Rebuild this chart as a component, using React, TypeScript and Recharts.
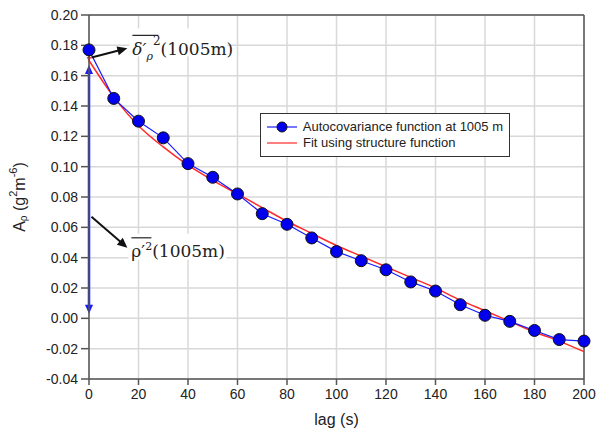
import React from 'react'
import { CartesianGrid, Legend, Line, LineChart, ReferenceLine, XAxis, YAxis } from 'recharts'

const lags = [0, 10, 20, 30, 40, 50, 60, 70, 80, 90, 100, 110, 120, 130, 140, 150, 160, 170, 180, 190, 200]
const autocov = [0.177, 0.145, 0.13, 0.119, 0.102, 0.093, 0.082, 0.069, 0.062, 0.053, 0.044, 0.038, 0.032, 0.024, 0.018, 0.009, 0.002, -0.002, -0.008, -0.014, -0.015]
const fit = [0.17, 0.146, 0.127, 0.113, 0.101, 0.091, 0.082, 0.073, 0.064, 0.056, 0.048, 0.041, 0.034, 0.027, 0.02, 0.012, 0.005, -0.002, -0.009, -0.015, -0.022]
const xTicks = [0, 20, 40, 60, 80, 100, 120, 140, 160, 180, 200]
const yTicks = [-0.04, -0.02, 0, 0.02, 0.04, 0.06, 0.08, 0.1, 0.12, 0.14, 0.16, 0.18, 0.2]

const seriesNames = ['Autocovariance function at 1005 m', 'Fit using structure function']
const totalVariance = 0.167 // rho'^2 arrow top
const noiseTop = 0.177
const noiseBottom = 0.169

const rows = lags.map((lag, i) => ({ lag, autocov: autocov[i], fit: fit[i] }))

const BLUE = '#1a1aff'
const RED = '#ff2a2a'
const FONT = '"Liberation Sans", Arial, sans-serif'
const SERIF = '"DejaVu Serif", "Liberation Serif", serif'

function head(x: number, y: number, ang: number, size: number, color: string) {
  const bx = x - size * Math.cos(ang)
  const by = y - size * Math.sin(ang)
  const px = Math.sin(ang) * size * 0.45
  const py = -Math.cos(ang) * size * 0.45
  return <polygon points={`${x},${y} ${bx + px},${by + py} ${bx - px},${by - py}`} fill={color} />
}

function arrow(color: string, width: number, size: number, both: boolean, label?: (x: number, y: number) => React.ReactNode) {
  return (props: any) => {
    const { x1, y1, x2, y2 } = props
    const ang = Math.atan2(y2 - y1, x2 - x1)
    const sx = both ? x1 + Math.cos(ang) * size * 0.8 : x1
    const sy = both ? y1 + Math.sin(ang) * size * 0.8 : y1
    const ex = x2 - Math.cos(ang) * size * 0.8
    const ey = y2 - Math.sin(ang) * size * 0.8
    return (
      <g>
        {label && label(x2, y2)}
        <line x1={sx} y1={sy} x2={ex} y2={ey} stroke={color} strokeWidth={width} />
        {head(x2, y2, ang, size, color)}
        {both && head(x1, y1, ang + Math.PI, size, color)}
      </g>
    )
  }
}

const deltaLabel = (x: number, y: number) => (
  <g>
    <rect x={x + 2} y={y - 20} width={98} height={28} fill="#fff" />
    <line x1={x + 5} y1={y - 13} x2={x + 31} y2={y - 13} stroke="#222" strokeWidth={1.2} />
    <text x={x + 5} y={y + 7} fontFamily={SERIF} fontSize={17} fill="#222">
      <tspan fontStyle="italic">δ′</tspan>
      <tspan dy={5} fontSize={11} fontStyle="italic">ρ</tspan>
      <tspan dy={-15} fontSize={12}>2</tspan>
      <tspan dy={10}>(1005m)</tspan>
    </text>
  </g>
)

const rhoLabel = (x: number, y: number) => (
  <g>
    <rect x={x + 1} y={y - 14} width={98} height={26} fill="#fff" />
    <line x1={x + 4} y1={y - 10} x2={x + 24} y2={y - 10} stroke="#222" strokeWidth={1.2} />
    <text x={x + 4} y={y + 9} fontFamily={SERIF} fontSize={17} fill="#222">
      <tspan>ρ′</tspan>
      <tspan dy={-7} fontSize={11}>2</tspan>
      <tspan dy={7}>(1005m)</tspan>
    </text>
  </g>
)

function YLabel({ viewBox }: any) {
  const cx = 19
  const cy = viewBox.y + viewBox.height / 2
  return (
    <text x={cx} y={cy} transform={`rotate(-90 ${cx} ${cy})`} textAnchor="middle" dominantBaseline="central" fontFamily={FONT} fontSize={16} fill="#222">
      <tspan>A</tspan>
      <tspan dy={4} fontSize={10}>ρ</tspan>
      <tspan dy={-4}> (g</tspan>
      <tspan dy={-6} fontSize={11}>2</tspan>
      <tspan dy={6}>m</tspan>
      <tspan dy={-6} fontSize={11}>-6</tspan>
      <tspan dy={6}>)</tspan>
    </text>
  )
}

function LegendBox() {
  return (
    <div style={{ border: '1px solid #333', background: '#fff', padding: '5px 6px', fontFamily: FONT, fontSize: 13, color: '#222', lineHeight: '16px', whiteSpace: 'nowrap', boxSizing: 'border-box', width: 250 }}>
      <div style={{ display: 'flex', alignItems: 'center' }}>
        <svg width={30} height={14} style={{ marginRight: 6 }}>
          <line x1={0} y1={7} x2={30} y2={7} stroke={BLUE} strokeWidth={1.2} />
          <circle cx={15} cy={7} r={5} fill="#0000ee" stroke="#111" strokeWidth={1} />
        </svg>
        {seriesNames[0]}
      </div>
      <div style={{ display: 'flex', alignItems: 'center' }}>
        <svg width={30} height={14} style={{ marginRight: 6 }}>
          <line x1={0} y1={7} x2={30} y2={7} stroke={RED} strokeWidth={1.2} />
        </svg>
        {seriesNames[1]}
      </div>
    </div>
  )
}

export default function App() {
  return (
    <div style={{ position: 'absolute', left: 0, top: 0, background: '#fff' }}>
      <LineChart width={613} height={435} data={rows} margin={{ top: 15, right: 29, bottom: 0, left: 0 }}>
        <CartesianGrid stroke="#d8d8d8" strokeWidth={1.5} />
        <XAxis
          dataKey="lag"
          type="number"
          domain={[0, 200]}
          ticks={xTicks}
          height={56}
          tickSize={6}
          tickMargin={4}
          stroke="#555"
          strokeWidth={1.5}
          tick={{ fill: '#222', fontSize: 14, fontFamily: FONT }}
          label={{ value: 'lag (s)', position: 'insideBottom', offset: 10, fill: '#222', fontSize: 16, fontFamily: FONT }}
        />
        <YAxis
          type="number"
          domain={[-0.04, 0.2]}
          ticks={yTicks}
          width={89}
          tickSize={8}
          tickMargin={3}
          stroke="#555"
          strokeWidth={1.5}
          tickFormatter={(v: number) => v.toFixed(2)}
          tick={{ fill: '#222', fontSize: 14, fontFamily: FONT }}
          label={<YLabel />}
        />
        <ReferenceLine y={0.2} stroke="#555" strokeWidth={1.5} />
        <ReferenceLine x={200} stroke="#555" strokeWidth={1.5} />
        <Line dataKey="fit" name={seriesNames[1]} type="monotone" stroke={RED} strokeWidth={1.5} dot={false} isAnimationActive={false} />
        <Line
          dataKey="autocov"
          name={seriesNames[0]}
          type="linear"
          stroke={BLUE}
          strokeWidth={1.2}
          dot={{ r: 6, fill: '#0000ee', stroke: '#111', strokeWidth: 1 }}
          isAnimationActive={false}
        />
        <ReferenceLine
          segment={[{ x: 0, y: 0.003 }, { x: 0, y: totalVariance }]}
          ifOverflow="visible"
          shape={arrow(BLUE, 2.5, 9, true)}
        />
        <ReferenceLine
          segment={[{ x: 0, y: noiseTop }, { x: 0, y: noiseBottom }]}
          ifOverflow="visible"
          shape={arrow(RED, 1.5, 5, true)}
        />
        <ReferenceLine
          segment={[{ x: 1, y: 0.172 }, { x: 15.5, y: 0.178 }]}
          ifOverflow="visible"
          shape={arrow('#111', 2, 10, false, deltaLabel)}
        />
        <ReferenceLine
          segment={[{ x: 1, y: 0.067 }, { x: 15.5, y: 0.0465 }]}
          ifOverflow="visible"
          shape={arrow('#111', 2, 10, false, rhoLabel)}
        />
        <Legend
          layout="horizontal"
          verticalAlign="middle"
          align="center"
          content={<LegendBox />}
          wrapperStyle={{ left: 260, top: 113, width: 250, height: 'auto' }}
        />
      </LineChart>
    </div>
  )
}
